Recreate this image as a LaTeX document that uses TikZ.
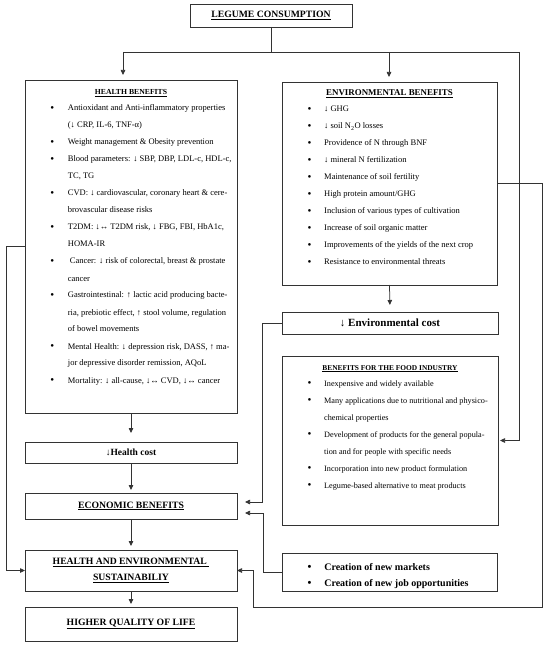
\documentclass[tikz,border=0pt]{standalone}
\usepackage{fontspec}
\setmainfont{Liberation Serif}
\usetikzlibrary{arrows.meta}
\newcommand{\hb}{\raisebox{-0.8pt}{\fontsize{11}{11}\selectfont\textbullet}}

\begin{document}
\begin{tikzpicture}[x=1pt,y=-1pt,
  panel/.style={draw=black!80,line width=0.8pt,anchor=north west,inner sep=0pt,outer sep=0pt},
  heading/.style={anchor=base,inner sep=0pt,font=\bfseries},
  listtext/.style={anchor=base west,inner sep=0pt},
  link/.style={draw=black!80,line width=0.75pt},
  arrow/.style={link,-{Triangle[length=5pt,width=4.5pt]}}]
\useasboundingbox (0,0) rectangle (550,647);

% boxes
\node[panel,minimum width=162pt,minimum height=23pt,font=\bfseries\fontsize{9.7}{11}\selectfont] (legume) at (190,4) {\underline{LEGUME CONSUMPTION}};
\node[panel,minimum width=212pt,minimum height=333pt] (health) at (25,80) {};
\node[panel,minimum width=215pt,minimum height=203pt] (env) at (282,82) {};
\node[panel,minimum width=216pt,minimum height=22pt,font=\bfseries\fontsize{11}{13}\selectfont] (envcost) at (282,312) {↓ Environmental cost};
\node[panel,minimum width=216pt,minimum height=169pt] (food) at (282,356) {};
\node[panel,minimum width=212pt,minimum height=21pt,font=\bfseries\fontsize{9.5}{11}\selectfont] (hcost) at (25,442) {↓Health cost};
\node[panel,minimum width=212pt,minimum height=26pt,font=\bfseries\fontsize{9.7}{11}\selectfont] (econ) at (25,493) {\underline{ECONOMIC BENEFITS}};
\node[panel,minimum width=212pt,minimum height=41pt,align=center,font=\bfseries\fontsize{9.7}{16}\selectfont] (sust) at (25,550) {\underline{HEALTH AND ENVIRONMENTAL\ }\\\underline{SUSTAINABILIY}};
\node[panel,minimum width=215pt,minimum height=38pt] (creation) at (282,553) {};
\node[panel,minimum width=212pt,minimum height=34pt,font=\bfseries\fontsize{9.7}{11}\selectfont] (life) at (25,607) {\raisebox{3pt}{\underline{HIGHER QUALITY OF LIFE}}};

% titles and lists
\node[heading,font=\bfseries\fontsize{7.7}{9}\selectfont] (healthtitle) at (131,94.5) {\underline{HEALTH BENEFITS}};
\node[listtext,font=\fontsize{8.5}{17}\selectfont] (healthlist) at (50.2,111) {\begin{tabular}[t]{@{}p{17.5pt}@{}l@{}}
\hb & Antioxidant and Anti-inflammatory properties\\
 & (↓ CRP, IL-6, TNF-α)\\
\hb & Weight management \& Obesity prevention\\
\hb & Blood parameters: ↓ SBP, DBP, LDL-c, HDL-c,\\
 & TC, TG\\
\hb & CVD: ↓ cardiovascular, coronary heart \& cere-\\
 & brovascular disease risks\\
\hb & T2DM: ↓↔ T2DM risk, ↓ FBG, FBI, HbA1c,\\
 & HOMA-IR\\
\hb & \hspace{2pt}Cancer: ↓ risk of colorectal, breast \& prostate\\
 & cancer\\
\hb & Gastrointestinal: ↑ lactic acid producing bacte-\\
 & ria, prebiotic effect, ↑ stool volume, regulation\\
 & of bowel movements\\
\hb & Mental Health: ↓ depression risk, DASS, ↑ ma-\\
 & jor depressive disorder remission, AQoL\\
\hb & Mortality: ↓ all-cause, ↓↔ CVD, ↓↔ cancer
\end{tabular}};

\node[heading,font=\bfseries\fontsize{8.9}{10}\selectfont] (envtitle) at (389.5,95.5) {\underline{ENVIRONMENTAL BENEFITS}};
\node[listtext,font=\fontsize{8.5}{17}\selectfont] (envlist) at (307.5,112) {\begin{tabular}[t]{@{}p{16.5pt}@{}l@{}}
\hb & ↓ GHG\\
\hb & ↓ soil N\textsubscript{2}O losses\\
\hb & Providence of N through BNF\\
\hb & ↓ mineral N fertilization\\
\hb & Maintenance of soil fertility\\
\hb & High protein amount/GHG\\
\hb & Inclusion of various types of cultivation\\
\hb & Increase of soil organic matter\\
\hb & Improvements of the yields of the next crop\\
\hb & Resistance to environmental threats
\end{tabular}};

\node[heading,font=\bfseries\fontsize{7.4}{9}\selectfont] (foodtitle) at (390,370) {\underline{BENEFITS FOR THE FOOD INDUSTRY}};
\node[listtext,font=\fontsize{8.2}{17}\selectfont] (foodlist) at (307.5,386) {\begin{tabular}[t]{@{}p{16.5pt}@{}l@{}}
\hb & Inexpensive and widely available\\
\hb & Many applications due to nutritional and physico-\\
 & chemical properties\\
\hb & Development of products for the general popula-\\
 & tion and for people with specific needs\\
\hb & Incorporation into new product formulation\\
\hb & Legume-based alternative to meat products
\end{tabular}};

\node[listtext,font=\bfseries\fontsize{10}{16}\selectfont] (creationlist) at (307.3,570) {\begin{tabular}[t]{@{}p{16.8pt}@{}l@{}}
\hb & Creation of new markets\\
\hb & Creation of new job opportunities
\end{tabular}};

% connectors
\coordinate (hsplit) at (123,52);
\coordinate (esplit) at (389,52);
\coordinate (rsplit) at (519,52);
\coordinate (farright) at (542,607);
\draw[link] (legume.south) -- (legume.south |- hsplit);
\draw[link] (hsplit) -- (rsplit);
\draw[arrow,shorten >=5pt] (hsplit) -- (hsplit |- health.north);
\draw[arrow,shorten >=5pt] (esplit) -- (esplit |- env.north);
\draw[arrow,shorten >=2pt] (rsplit) |- (food.east);
\draw[arrow] (env.east) -| (farright) -| ([xshift=16pt]sust.east) -- (sust.east);
\draw[arrow,shorten >=7pt] (env.south) -- (envcost.north);
\draw[arrow,shorten >=8pt] (envcost.west) -| ([xshift=25pt,yshift=4pt]econ.east) -- ([yshift=4pt]econ.east);
\draw[arrow,shorten >=8pt] (creation.west) -| ([xshift=26pt,yshift=-7pt]econ.east) -- ([yshift=-7pt]econ.east);
\draw[arrow] (health.west) -- ([xshift=-19pt]health.west) |- (sust.west);
\draw[arrow,shorten >=9pt] (health.south) -- (hcost.north);
\draw[arrow,shorten >=3pt] (hcost.south) -- (econ.north);
\draw[arrow,shorten >=4pt] (econ.south) -- (sust.north);
\draw[arrow,shorten >=3pt] (sust.south) -- (life.north);
\end{tikzpicture}
\end{document}
